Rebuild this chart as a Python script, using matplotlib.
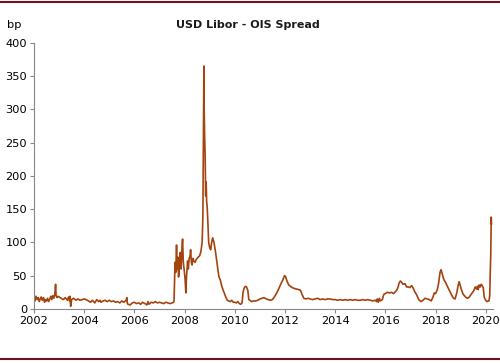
import matplotlib.pyplot as plt
from matplotlib.lines import Line2D

# USD Libor - OIS spread (decimal year, bp)
years = [
    2002.00, 2002.04, 2002.08, 2002.13, 2002.17, 2002.21, 2002.25, 2002.29, 2002.33, 2002.38,
    2002.42, 2002.46, 2002.50, 2002.54, 2002.58, 2002.63, 2002.67, 2002.71, 2002.75, 2002.79,
    2002.83, 2002.86, 2002.88, 2002.92, 2002.96,
    2003.00, 2003.08, 2003.17, 2003.25, 2003.33, 2003.38, 2003.42, 2003.44, 2003.46, 2003.50,
    2003.58, 2003.67, 2003.75, 2003.83, 2003.92,
    2004.00, 2004.08, 2004.17, 2004.25, 2004.33, 2004.42, 2004.50, 2004.58, 2004.63, 2004.67,
    2004.75, 2004.83, 2004.92,
    2005.00, 2005.08, 2005.17, 2005.25, 2005.33, 2005.42, 2005.50, 2005.58, 2005.67, 2005.70,
    2005.72, 2005.75, 2005.83, 2005.92,
    2006.00, 2006.08, 2006.17, 2006.25, 2006.33, 2006.42, 2006.50, 2006.54, 2006.58, 2006.67,
    2006.75, 2006.83, 2006.92,
    2007.00, 2007.08, 2007.17, 2007.25, 2007.33, 2007.42, 2007.50, 2007.56, 2007.58, 2007.60,
    2007.62, 2007.65, 2007.68, 2007.70, 2007.73, 2007.76, 2007.80, 2007.83, 2007.86, 2007.90,
    2007.92, 2007.95, 2007.98,
    2008.02, 2008.05, 2008.08, 2008.12, 2008.15, 2008.18, 2008.22, 2008.24, 2008.27, 2008.30,
    2008.33, 2008.37, 2008.42, 2008.46, 2008.50, 2008.55, 2008.60, 2008.65, 2008.70, 2008.73,
    2008.75, 2008.77, 2008.78, 2008.80, 2008.82, 2008.84, 2008.86, 2008.88, 2008.90, 2008.93,
    2008.96,
    2009.00, 2009.04, 2009.08, 2009.12, 2009.17, 2009.22, 2009.27, 2009.32, 2009.37, 2009.42,
    2009.47, 2009.52, 2009.58, 2009.64, 2009.70, 2009.76, 2009.82, 2009.88, 2009.94,
    2010.00, 2010.06, 2010.12, 2010.18, 2010.24, 2010.29, 2010.33, 2010.37, 2010.42, 2010.47,
    2010.52, 2010.56, 2010.60, 2010.67, 2010.75, 2010.83, 2010.92,
    2011.00, 2011.08, 2011.17, 2011.25, 2011.33, 2011.42, 2011.50, 2011.58, 2011.67, 2011.75,
    2011.83, 2011.92, 2011.98,
    2012.02, 2012.08, 2012.15, 2012.25, 2012.35, 2012.45, 2012.55, 2012.62, 2012.68, 2012.75,
    2012.83, 2012.92,
    2013.00, 2013.10, 2013.20, 2013.30, 2013.40, 2013.50, 2013.60, 2013.70, 2013.80, 2013.90,
    2014.00, 2014.10, 2014.20, 2014.30, 2014.40, 2014.50, 2014.60, 2014.70, 2014.80, 2014.90,
    2015.00, 2015.10, 2015.20, 2015.30, 2015.40, 2015.50, 2015.60, 2015.65, 2015.68, 2015.72,
    2015.76, 2015.80, 2015.88, 2015.94,
    2016.00, 2016.08, 2016.17, 2016.25, 2016.33, 2016.40, 2016.45, 2016.50, 2016.55, 2016.60,
    2016.65, 2016.70, 2016.78, 2016.85, 2016.92, 2016.98,
    2017.05, 2017.10, 2017.17, 2017.25, 2017.33, 2017.42, 2017.50, 2017.58, 2017.67, 2017.75,
    2017.83, 2017.90, 2017.95,
    2018.00, 2018.07, 2018.12, 2018.18, 2018.22, 2018.27, 2018.33, 2018.40, 2018.47, 2018.55,
    2018.65, 2018.72, 2018.78, 2018.85, 2018.90, 2018.94, 2018.98,
    2019.04, 2019.10, 2019.15, 2019.22, 2019.28, 2019.35, 2019.42, 2019.48, 2019.53, 2019.58,
    2019.63, 2019.67, 2019.70, 2019.74, 2019.78, 2019.82, 2019.86, 2019.90, 2019.94, 2019.98,
    2020.05, 2020.10, 2020.13, 2020.16, 2020.18, 2020.20, 2020.22, 2020.23,
]
spread_bp = [
    18, 12, 19, 14, 17, 11, 15, 18, 13, 17,
    10, 14, 12, 16, 11, 15, 19, 14, 20, 16,
    22, 37, 20, 17, 19,
    18, 16, 14, 17, 13, 18, 12, 19, 4, 14,
    16, 13, 15, 13, 14,
    15, 14, 12, 10, 13, 9, 14, 11, 13, 10,
    12, 13, 11,
    13, 11, 12, 10, 11, 9, 12, 10, 13, 17,
    8, 7, 6, 9,
    10, 8, 9, 7, 10, 8, 6, 11, 7, 10,
    9, 11, 9,
    10, 9, 8, 10, 9, 8, 9, 10, 12, 40,
    70, 55, 96, 60, 78, 48, 65, 85, 60, 95,
    105, 70, 60,
    45, 24, 50, 72, 60, 75, 80, 89, 70, 66,
    76, 72, 70, 74, 76, 78, 80, 86, 100, 140,
    250, 365, 300, 259, 230, 170, 191, 161, 154, 129,
    100,
    92, 89, 100, 107, 100, 89, 75, 60, 48, 44,
    36, 30, 24, 18, 13, 12, 11, 13, 10,
    10, 9, 11, 8, 7, 9, 25, 31, 34, 33,
    28, 14, 13, 11, 12, 12, 13,
    15, 16, 17, 15, 14, 13, 14, 18, 24, 30,
    37, 44, 50,
    49, 42, 36, 33, 31, 30, 29, 28, 22, 16,
    15, 16,
    15, 14, 15, 16, 14, 15, 14, 15, 15, 14,
    14, 13, 14, 13, 14, 13, 14, 13, 14, 13,
    13, 14, 13, 14, 13, 12, 13, 11, 15, 10,
    16, 12, 14, 22,
    23, 25, 24, 25, 23, 26, 28, 32, 39, 42,
    40, 37, 38, 33, 33, 32,
    35, 32, 26, 21, 14, 11, 13, 16, 15, 14,
    12, 18, 24,
    23, 29, 38, 55, 59, 52, 44, 40, 34, 28,
    20, 16, 15, 25, 35, 41, 36,
    28, 22, 20, 17, 16, 18, 22, 25, 28, 33,
    30, 34, 29, 36, 33, 37, 35, 32, 18, 14,
    11, 12, 12, 20, 55, 80, 138, 128,
]

x_ticks = [2002, 2004, 2006, 2008, 2010, 2012, 2014, 2016, 2018, 2020]
y_ticks = [0, 50, 100, 150, 200, 250, 300, 350, 400]

fig = plt.figure(figsize=(5, 3.63), dpi=100)
ax = fig.add_axes([0.068, 0.149, 0.918, 0.733])

ax.plot(years, spread_bp, color='#A3440F', linewidth=1.2)

ax.set_xlim(2002, 2020.29)
ax.set_ylim(0, 400)
ax.set_xticks(x_ticks)
ax.set_yticks(y_ticks)
ax.tick_params(labelsize=8.2, length=3, color='#888888', pad=2)

for side in ['top', 'right']:
    ax.spines[side].set_visible(False)
for side in ['left', 'bottom']:
    ax.spines[side].set_color('#888888')
    ax.spines[side].set_linewidth(0.8)

# Title and unit label
fig.text(0.495, 0.93, 'USD Libor - OIS Spread', ha='center', va='center',
         fontsize=8, fontweight='bold', color='#1a1a1a')
fig.text(0.015, 0.93, 'bp', ha='left', va='center', fontsize=8.2)

# Dark red rules at top and bottom
fig.add_artist(Line2D([0, 1], [0.995, 0.995], color='#6E1420', linewidth=1.5))
fig.add_artist(Line2D([0, 1], [0.01, 0.01], color='#6E1420', linewidth=1.5))

fig.savefig('out.png', dpi=100)
